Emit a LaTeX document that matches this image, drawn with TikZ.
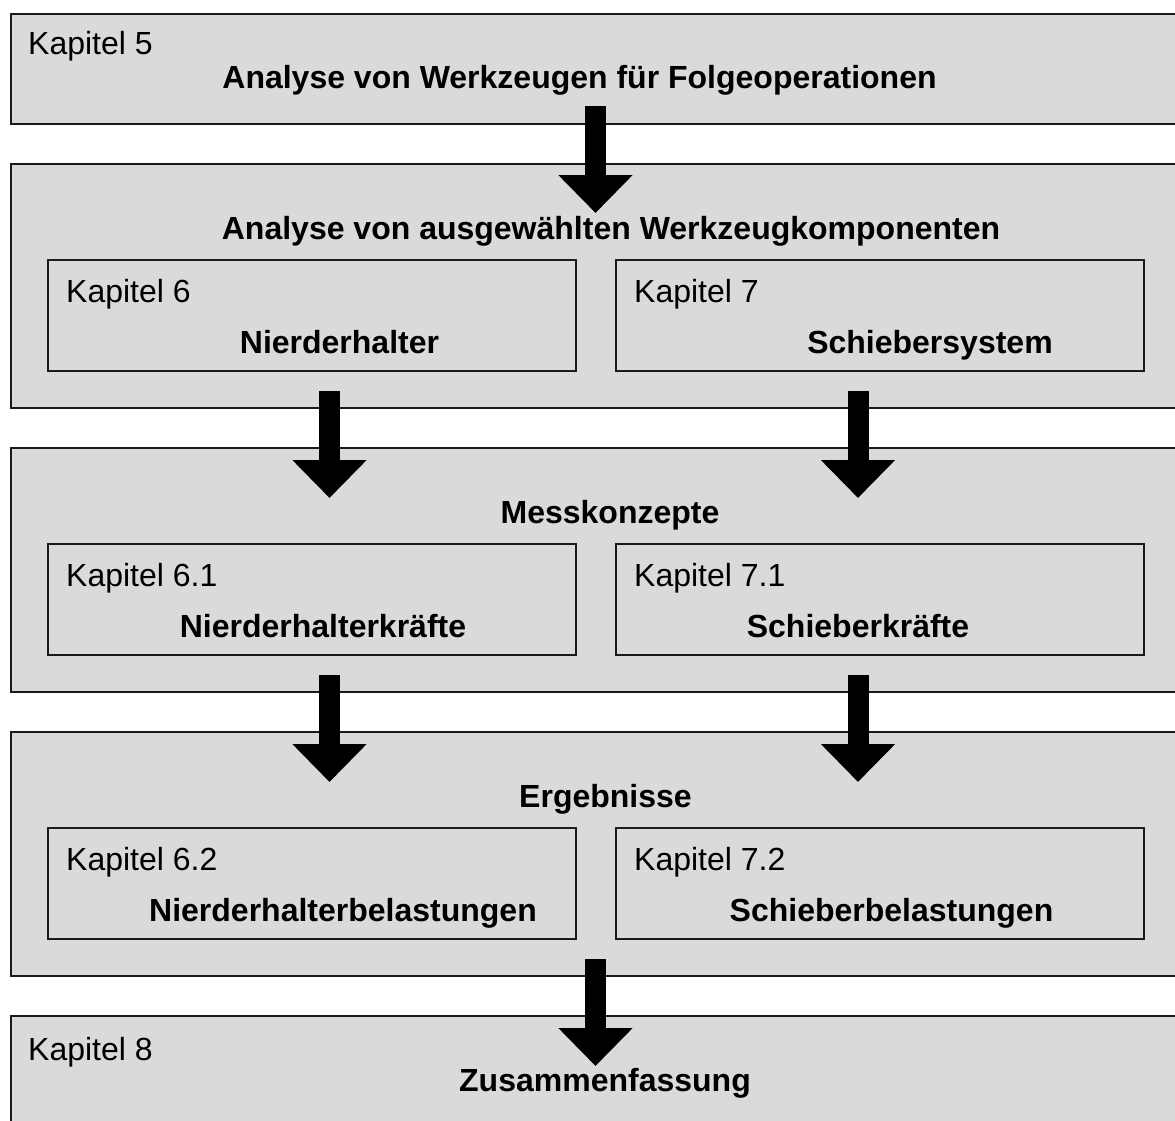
\documentclass[tikz,border=0pt]{standalone}
\usepackage{fontspec}
\setmainfont{Liberation Sans}
\usetikzlibrary{arrows.meta}
\definecolor{boxgray}{RGB}{218,218,218}
\definecolor{edgecol}{RGB}{30,25,25}
\begin{document}
\begin{tikzpicture}[x=1pt,y=-1pt,
 outerbox/.style={draw=edgecol,fill=boxgray,line width=2pt,anchor=north west,inner sep=0pt,minimum width=1185pt},
 innerbox/.style={draw=edgecol,fill=boxgray,line width=2pt,anchor=north west,inner sep=0pt,minimum width=528pt,minimum height=111pt},
 lbl/.style={anchor=base west,inner sep=0pt,font=\fontsize{32}{38}\selectfont},
 ttl/.style={anchor=base,inner sep=0pt,font=\fontsize{32}{38}\selectfont\bfseries},
 blockarrow/.style={line width=21pt,-{Triangle[length=38pt,width=72pt]},black}]
\useasboundingbox (0,0) rectangle (1175,1120);
\begin{scope}
\clip (0,0) rectangle (1175,1120);
% outer boxes
\node[outerbox,minimum height=110pt] (b1) at (10,13) {};
\node[outerbox,minimum height=244pt] (b2) at (10,163) {};
\node[outerbox,minimum height=244pt] (b3) at (10,447) {};
\node[outerbox,minimum height=244pt] (b4) at (10,731) {};
\node[outerbox,minimum height=130pt] (b5) at (10,1015) {};
% inner boxes
\node[innerbox] (i6) at (47,259) {};
\node[innerbox] (i7) at (615,259) {};
\node[innerbox] (i61) at (47,543) {};
\node[innerbox] (i71) at (615,543) {};
\node[innerbox] (i62) at (47,827) {};
\node[innerbox] (i72) at (615,827) {};
% texts
\node[lbl] (k5) at (28,54) {Kapitel 5};
\node[ttl] (t1) at (579.5,88) {Analyse von Werkzeugen für Folgeoperationen};
\node[ttl] (t2) at (611,239) {Analyse von ausgewählten Werkzeugkomponenten};
\node[lbl] (k6) at (66,302) {Kapitel 6};
\node[ttl] (n6) at (339.5,353) {Nierderhalter};
\node[lbl] (k7) at (634,302) {Kapitel 7};
\node[ttl] (n7) at (930,353) {Schiebersystem};
\node[ttl] (t3) at (610,523) {Messkonzepte};
\node[lbl] (k61) at (66,586) {Kapitel 6.1};
\node[ttl] (n61) at (323,637) {Nierderhalterkräfte};
\node[lbl] (k71) at (634,586) {Kapitel 7.1};
\node[ttl] (n71) at (858,637) {Schieberkräfte};
\node[ttl] (t4) at (605.5,807) {Ergebnisse};
\node[lbl] (k62) at (66,870) {Kapitel 6.2};
\node[ttl] (n62) at (343,921) {Nierderhalterbelastungen};
\node[lbl] (k72) at (634,870) {Kapitel 7.2};
\node[ttl] (n72) at (891.5,921) {Schieberbelastungen};
\node[lbl] (k8) at (28,1060) {Kapitel 8};
\node[ttl] (t5) at (605,1091) {Zusammenfassung};
% arrows
\coordinate (a1s) at (595.5,106); \coordinate (a1e) at (595.5,213);
\coordinate (a2s) at (329.5,391); \coordinate (a2e) at (329.5,498);
\coordinate (a3s) at (858,391);   \coordinate (a3e) at (858,498);
\coordinate (a4s) at (329.5,675); \coordinate (a4e) at (329.5,782);
\coordinate (a5s) at (858,675);   \coordinate (a5e) at (858,782);
\coordinate (a6s) at (595.5,959); \coordinate (a6e) at (595.5,1066);
\draw[blockarrow] (a1s) -- (a1e);
\draw[blockarrow] (a2s) -- (a2e);
\draw[blockarrow] (a3s) -- (a3e);
\draw[blockarrow] (a4s) -- (a4e);
\draw[blockarrow] (a5s) -- (a5e);
\draw[blockarrow] (a6s) -- (a6e);
\end{scope}
\end{tikzpicture}
\end{document}
